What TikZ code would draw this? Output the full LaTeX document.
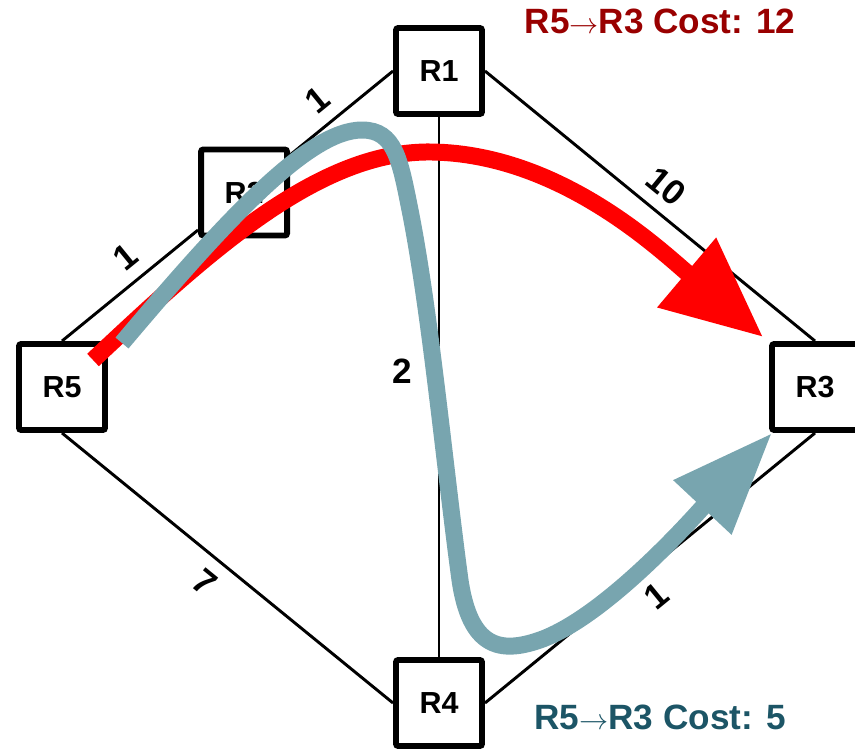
\documentclass[tikz,border=0pt]{standalone}
\usepackage{fontspec}
\setmainfont{Liberation Sans}
\usetikzlibrary{arrows.meta,calc}
\definecolor{costred}{RGB}{153,0,0}
\definecolor{costteal}{RGB}{28,85,102}
\definecolor{pathgray}{RGB}{120,165,175}

\begin{document}
\begin{tikzpicture}[x=0.03cm, y=-0.03cm,
  router/.style={draw, line width=5.1pt, rounded corners=2pt, fill=white, minimum size=2.58cm, inner sep=0pt, font=\fontsize{26}{28}\selectfont\bfseries},
  link/.style={line width=2.5pt},
  cost/.style={font=\fontsize{30}{32}\selectfont\bfseries, inner sep=10pt},
  route/.style={line width=14.5pt, line cap=butt},
  total/.style={font=\fontsize{30}{32}\selectfont\bfseries}]
  \useasboundingbox (0,0) rectangle (855,749);
  % routers
  \node[router] (R1) at (439,71) {R1};
  \node[router] (R5) at (62,387) {R5};
  \node[router] (R3) at (815,387) {R3};
  \node[router] (R4) at (439,703) {R4};
  \node[router] (R2) at ($(R5.north)!0.55!(R1.west)$) {R2};
  % links with costs
  \draw[link] (R5.north) -- (R2) node[cost, sloped, pos=0.58, above] {1};
  \draw[link] (R2) -- (R1.west) node[cost, sloped, pos=0.42, above] {1};
  \draw[link] (R1.east) -- (R3.north) node[cost, sloped, pos=0.5, above] {10};
  \draw[link] (R1) -- (R4) node[cost, pos=0.47, left=12pt] {2};
  \draw[link] (R5.south) -- (R4.west) node[cost, sloped, pos=0.48, below] {7};
  \draw[link] (R4.east) -- (R3.south) node[cost, sloped, pos=0.47, below] {1};
  % routes
  \coordinate (redstart) at ($(R5)+(31,-27)$);
  \coordinate (redend) at ($(R3)+(-52,-50)$);
  \coordinate (graystart) at ($(R5)+(60,-44)$);
  \coordinate (grayend) at ($(R3.south west)+(3,0)$);
  \draw[route, red, -{Triangle[length=3cm, width=2.6cm]}] (redstart)
    .. controls (210,250) and (320,150) .. (432,152)
    .. controls (560,154) and (660,250) .. (redend);
  \draw[route, pathgray, -{Triangle[length=3.06cm, width=2.25cm]}] (graystart)
    .. controls (230,215) and (310,130) .. (362,130)
    .. controls (395,130) and (400,160) .. (410,210)
    .. controls (430,310) and (445,470) .. (460,580)
    .. controls (470,648) and (500,654) .. (540,640)
    .. controls (608,616) and (700,510) .. (grayend);
  % totals
  \node[total, text=costred] (slow) at (660,21) {R5$\rightarrow$R3 Cost: 12};
  \node[total, text=costteal] (fast) at (660,717) {R5$\rightarrow$R3 Cost: 5};
\end{tikzpicture}
\end{document}
